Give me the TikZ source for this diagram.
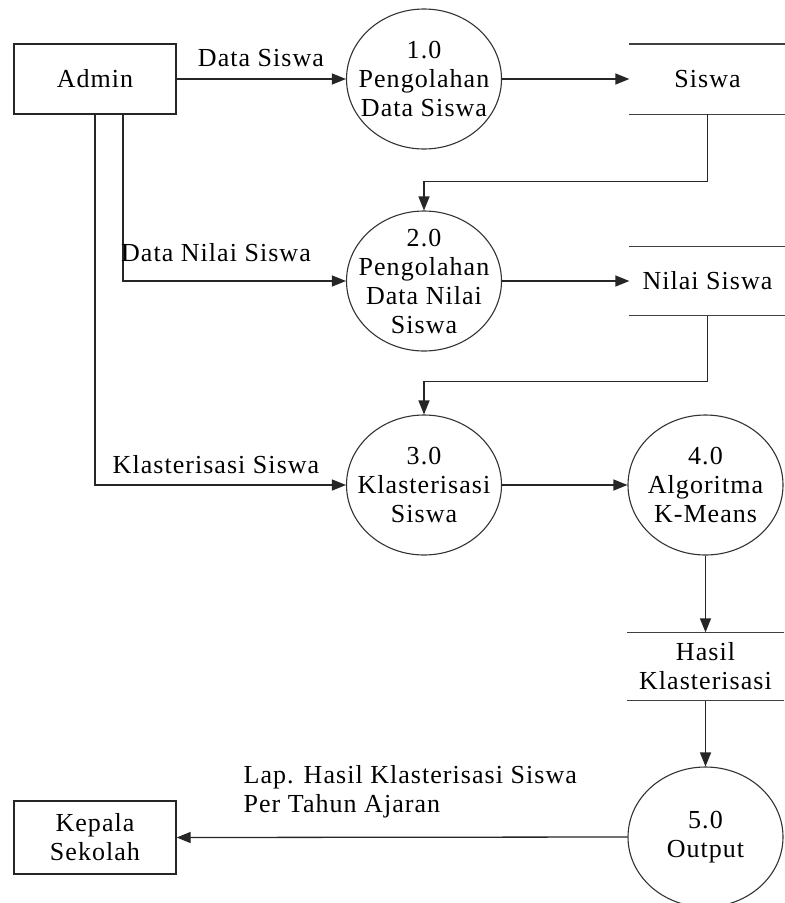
\documentclass[tikz,border=0pt]{standalone}
\usepackage{fontspec}
\setmainfont{Liberation Serif}[LetterSpace=4]
\usetikzlibrary{arrows.meta,shapes.geometric}
\begin{document}
\begin{tikzpicture}[x=1pt,y=-1pt,
  line width=1.3pt,
  every node/.style={font=\fontsize{26}{29}\selectfont, align=center, inner sep=0pt},
  proc/.style={ellipse, draw=black!80, line width=1.1pt, minimum width=155, minimum height=140},
  entity/.style={rectangle, draw=black!85, minimum width=162},
  store/.style={rectangle, minimum width=155},
  flow/.style={draw=black!85, -{Triangle[length=14pt,width=11pt]}},
  rule/.style={draw=black!75}]
\useasboundingbox[fill=white] (0,0) rectangle (785,903);

% external entities
\node[entity, minimum height=70] (admin) at (95,79) {Admin};
\node[entity, minimum height=73] (kepala) at (95,837.5) {Kepala\\Sekolah};

% processes
\node[proc] (p1) at (424,79) {};
\node (t1) at (p1) {1.0\\Pengolahan\\Data Siswa};
\node[proc] (p2) at (424,281) {};
\node (t2) at (p2) {2.0\\Pengolahan\\Data Nilai\\Siswa};
\node[proc] (p3) at (424,485) {};
\node (t3) at (p3) {3.0\\Klasterisasi\\Siswa};
\node[proc] (p4) at (705.5,485) {};
\node (t4) at (p4) {4.0\\Algoritma\\K-Means};
\node[proc] (p5) at (705.5,837) {};
\node (t5) at (p5) {5.0\\Output};

% data stores (open-ended)
\node[store, minimum height=69] (s1) at (707.5,79) {Siswa};
\node[store, minimum height=68] (s2) at (707.5,281) {Nilai Siswa};
\node[store, minimum height=67] (s3) at (705.5,666.5) {Hasil\\Klasterisasi};
\foreach \s in {s1,s2,s3}{
  \draw[rule] (\s.north west) -- (\s.north east);
  \draw[rule] (\s.south west) -- (\s.south east);
}

% data flows
\draw[flow] (admin.east) -- (p1.west);
\draw[flow] (p1.east) -- (s1.west);
\draw[flow] (s1.south) -- ++(0,67) -| (p2.north);
\draw[flow] ([xshift=28pt]admin.south) |- (p2.west);
\draw[flow] (p2.east) -- (s2.west);
\draw[flow] (s2.south) -- ++(0,66) -| (p3.north);
\draw[flow] (admin.south) |- (p3.west);
\draw[flow] (p3.east) -- (p4.west);
\draw[flow] (p4.south) -- (s3.north);
\draw[flow] (s3.south) -- (p5.north);
\draw[flow] (p5.west) -- (kepala.east);

% flow labels
\node (l1) at (261,58) {Data Siswa};
\node (l2) at (216,253) {Data Nilai Siswa};
\node (l3) at (216,465) {Klasterisasi Siswa};
\node[anchor=west, align=left] (l4) at (243,792) {Lap. Hasil Klasterisasi Siswa\\Per Tahun Ajaran};
\end{tikzpicture}
\end{document}
